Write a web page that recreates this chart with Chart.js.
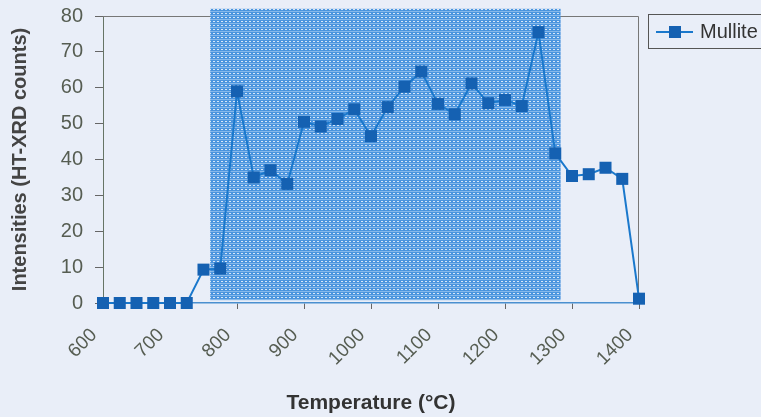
<!doctype html>
<html>
<head>
    <title>Mullite HT-XRD</title>
    <script src="https://cdn.jsdelivr.net/npm/chart.js@4/dist/chart.umd.min.js"></script>
    <style>
    body {
        margin: 0;
        background: #e9eef8;
        font-family: "Liberation Sans", Arial, sans-serif;
    }
    #holder {
        width: 761px;
        height: 417px;
    }
    </style>
</head>
<body>
    <div id="holder">
        <canvas id="chart-area" width="761" height="417"></canvas>
    </div>
    <script>
    // data
    var temperatures = [600, 625, 650, 675, 700, 725, 750, 775, 800, 825, 850, 875, 900, 925, 950, 975,
                        1000, 1025, 1050, 1075, 1100, 1125, 1150, 1175, 1200, 1225, 1250, 1275,
                        1300, 1325, 1350, 1375, 1400];
    var mullite = [0, 0, 0, 0, 0, 0, 9.3, 9.6, 59, 35, 37, 33.2, 50.5, 49.2, 51.3, 54,
                   46.5, 54.6, 60.3, 64.5, 55.5, 52.6, 61.2, 55.7, 56.6, 54.9, 75.5, 41.7,
                   35.4, 35.9, 37.7, 34.6, 1.2];
    var xTicks = [600, 700, 800, 900, 1000, 1100, 1200, 1300, 1400];
    var yTicks = [0, 10, 20, 30, 40, 50, 60, 70, 80];
    var shadeRange = [760, 1283];   // shaded temperature window
    var shadeTop = 82;

    var points = temperatures.map(function(t, i) {
        return {x: t, y: mullite[i]};
    });

    var tickColor = '#565d52';
    var lineBlue = '#1a78cc';
    var markBlue = '#1561b2';
    var fontFam = '"Liberation Sans", Arial, sans-serif';

    // halftone-ish blue fill for the shaded window
    function makePattern(ctx) {
        var c = document.createElement('canvas');
        c.width = 4; c.height = 4;
        var p = c.getContext('2d');
        p.fillStyle = '#4a94de';
        p.fillRect(0, 0, 4, 4);
        p.fillStyle = '#d9e8f8';
        p.fillRect(1, 1, 2, 1);
        p.fillStyle = '#86b8ea';
        p.fillRect(0, 3, 4, 1);
        return ctx.createPattern(c, 'repeat');
    }

    var backdrop = {
        id: 'backdrop',
        beforeDatasetsDraw: function(chart) {
            var ctx = chart.ctx, a = chart.chartArea;
            var xs = chart.scales.x, ys = chart.scales.y;
            ctx.save();
            // frame
            ctx.strokeStyle = '#777';
            ctx.lineWidth = 1;
            ctx.beginPath();
            ctx.moveTo(a.left, a.top + 0.5);
            ctx.lineTo(a.right - 0.5, a.top + 0.5);
            ctx.lineTo(a.right - 0.5, a.bottom);
            ctx.stroke();
            // shaded window
            var x0 = xs.getPixelForValue(shadeRange[0]);
            var x1 = xs.getPixelForValue(shadeRange[1]);
            var y0 = ys.getPixelForValue(shadeTop);
            var y1 = ys.getPixelForValue(0.8);
            ctx.fillStyle = makePattern(ctx);
            ctx.fillRect(x0, y0, x1 - x0, y1 - y0);
            ctx.restore();
        },
        afterDraw: function(chart) {
            // legend box on the right
            var ctx = chart.ctx;
            ctx.save();
            ctx.strokeStyle = '#555';
            ctx.lineWidth = 1;
            ctx.strokeRect(648.5, 14.5, 120, 34);
            ctx.strokeStyle = lineBlue;
            ctx.lineWidth = 2;
            ctx.beginPath();
            ctx.moveTo(656, 32);
            ctx.lineTo(693, 32);
            ctx.stroke();
            ctx.fillStyle = markBlue;
            ctx.fillRect(669, 26, 12, 12);
            ctx.fillStyle = '#333';
            ctx.font = '20px ' + fontFam;
            ctx.textBaseline = 'middle';
            ctx.fillText('Mullite', 700, 32);
            ctx.restore();
        }
    };

    var config = {
        type: 'line',
        data: {
            datasets: [{
                label: 'Mullite',
                data: points,
                borderColor: lineBlue,
                borderWidth: 2,
                backgroundColor: markBlue,
                pointStyle: 'rect',
                pointRadius: 8.5,
                pointHoverRadius: 8.5,
                pointBackgroundColor: markBlue,
                pointBorderColor: markBlue,
                pointBorderWidth: 0,
                tension: 0,
                clip: false
            }]
        },
        options: {
            responsive: false,
            animation: false,
            layout: {
                padding: {top: 16, right: 122, bottom: 0, left: 0}
            },
            plugins: {
                legend: {display: false},
                tooltip: {enabled: false}
            },
            scales: {
                x: {
                    type: 'linear',
                    min: 600,
                    max: 1400,
                    afterBuildTicks: function(scale) {
                        scale.ticks = xTicks.map(function(v) { return {value: v}; });
                    },
                    afterFit: function(scale) {
                        scale.height = 114;
                        scale.paddingLeft = 0;
                        scale.paddingRight = 0;
                    },
                    grid: {
                        drawOnChartArea: false,
                        drawTicks: true,
                        tickLength: 6,
                        color: '#666'
                    },
                    border: {color: '#4a8fcf', width: 1.5},
                    ticks: {
                        minRotation: 45,
                        maxRotation: 45,
                        padding: 15,
                        labelOffset: -9,
                        color: tickColor,
                        callback: function(v) { return String(v); },
                        font: {family: fontFam, size: 19}
                    },
                    title: {
                        display: true,
                        text: 'Temperature (°C)',
                        color: '#333',
                        padding: {top: 0, bottom: 1},
                        font: {family: fontFam, size: 21, weight: 'bold'}
                    }
                },
                y: {
                    min: 0,
                    max: 80,
                    afterBuildTicks: function(scale) {
                        scale.ticks = yTicks.map(function(v) { return {value: v}; });
                    },
                    afterFit: function(scale) {
                        scale.width = 103;
                        scale.paddingTop = 0;
                        scale.paddingBottom = 0;
                    },
                    grid: {
                        drawOnChartArea: false,
                        drawTicks: true,
                        tickLength: 8,
                        color: '#666'
                    },
                    border: {color: '#667566', width: 1},
                    ticks: {
                        padding: 12,
                        color: tickColor,
                        font: {family: fontFam, size: 20}
                    },
                    title: {
                        display: true,
                        text: 'Intensities (HT-XRD counts)',
                        color: '#444',
                        padding: {top: 8, bottom: 0},
                        font: {family: fontFam, size: 20, weight: 'bold'}
                    }
                }
            }
        },
        plugins: [backdrop]
    };

    window.onload = function() {
        var ctx = document.getElementById('chart-area').getContext('2d');
        window.myLine = new Chart(ctx, config);
    };
    </script>
</body>
</html>
